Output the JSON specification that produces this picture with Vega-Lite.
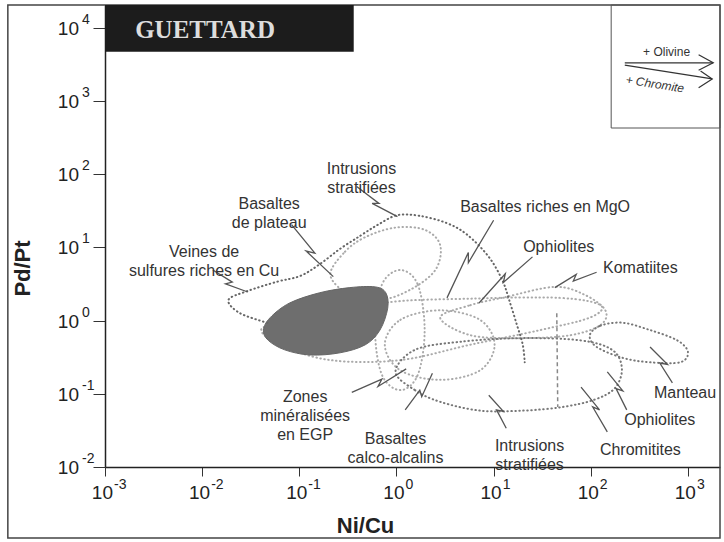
{
"$schema":"https://vega.github.io/schema/vega-lite/v6.json",
"width":615,"height":462,
"autosize":{"type":"none"},
"padding":{"left":105,"top":5,"right":4,"bottom":75},
"background":"white",
"config":{"view":{"stroke":null},"font":"Liberation Sans"},
"datasets":{
"frame":[{"x":-4,"x2":3.33,"y":-2.97,"y2":4.31}],
"legendbox":[{"x":2.21,"x2":3.33,"y":2.63,"y2":4.31}],
"titlebox":[{"x":-3,"x2":-0.44,"y":3.67,"y2":4.31}],
"blob":[
{"g":"b","o":1,"x":-1.37,"y":-0.13},{"g":"b","o":2,"x":-1.30,"y":0.04},{"g":"b","o":3,"x":-1.10,"y":0.24},{"g":"b","o":4,"x":-0.79,"y":0.38},{"g":"b","o":5,"x":-0.48,"y":0.45},{"g":"b","o":6,"x":-0.22,"y":0.46},{"g":"b","o":7,"x":-0.11,"y":0.38},{"g":"b","o":8,"x":-0.09,"y":0.17},{"g":"b","o":9,"x":-0.17,"y":-0.13},{"g":"b","o":10,"x":-0.32,"y":-0.33},{"g":"b","o":11,"x":-0.58,"y":-0.44},{"g":"b","o":12,"x":-0.89,"y":-0.47},{"g":"b","o":13,"x":-1.15,"y":-0.40},{"g":"b","o":14,"x":-1.32,"y":-0.27}],
"openfield":[
{"g":"f1","o":1,"x":-1.33,"y":-0.03},{"g":"f1","o":2,"x":-1.61,"y":0.10},{"g":"f1","o":3,"x":-1.73,"y":0.28},{"g":"f1","o":4,"x":-1.54,"y":0.40},{"g":"f1","o":5,"x":-1.23,"y":0.53},{"g":"f1","o":6,"x":-0.99,"y":0.61},{"g":"f1","o":7,"x":-0.79,"y":0.77},{"g":"f1","o":8,"x":-0.58,"y":0.98},{"g":"f1","o":9,"x":-0.37,"y":1.16},{"g":"f1","o":10,"x":-0.19,"y":1.31},{"g":"f1","o":11,"x":0.01,"y":1.44},{"g":"f1","o":12,"x":0.24,"y":1.43},{"g":"f1","o":13,"x":0.52,"y":1.33},{"g":"f1","o":14,"x":0.73,"y":1.17},{"g":"f1","o":15,"x":0.95,"y":0.87},{"g":"f1","o":16,"x":1.09,"y":0.55},{"g":"f1","o":17,"x":1.16,"y":0.28},{"g":"f1","o":18,"x":1.24,"y":-0.06},{"g":"f1","o":19,"x":1.30,"y":-0.33},{"g":"f1","o":20,"x":1.32,"y":-0.57}],
"darkfields":[
{"g":"f2","o":1,"x":-0.01,"y":-0.70},{"g":"f2","o":2,"x":0.19,"y":-0.95},{"g":"f2","o":3,"x":0.45,"y":-1.11},{"g":"f2","o":4,"x":0.86,"y":-1.23},{"g":"f2","o":5,"x":1.30,"y":-1.23},{"g":"f2","o":6,"x":1.71,"y":-1.18},{"g":"f2","o":7,"x":2.04,"y":-1.08},{"g":"f2","o":8,"x":2.25,"y":-0.92},{"g":"f2","o":9,"x":2.32,"y":-0.65},{"g":"f2","o":10,"x":2.22,"y":-0.40},{"g":"f2","o":11,"x":1.89,"y":-0.27},{"g":"f2","o":12,"x":1.27,"y":-0.24},{"g":"f2","o":13,"x":0.65,"y":-0.29},{"g":"f2","o":14,"x":0.19,"y":-0.40},
{"g":"f3","o":1,"x":1.99,"y":-0.20},{"g":"f3","o":2,"x":2.10,"y":-0.07},{"g":"f3","o":3,"x":2.33,"y":-0.03},{"g":"f3","o":4,"x":2.61,"y":-0.13},{"g":"f3","o":5,"x":2.89,"y":-0.27},{"g":"f3","o":6,"x":3.00,"y":-0.43},{"g":"f3","o":7,"x":2.92,"y":-0.57},{"g":"f3","o":8,"x":2.61,"y":-0.57},{"g":"f3","o":9,"x":2.33,"y":-0.51},{"g":"f3","o":10,"x":2.06,"y":-0.36}],
"lightfields":[
{"g":"f4","o":1,"x":0.45,"y":0.04},{"g":"f4","o":2,"x":0.76,"y":0.21},{"g":"f4","o":3,"x":1.12,"y":0.32},{"g":"f4","o":4,"x":1.63,"y":0.46},{"g":"f4","o":5,"x":1.94,"y":0.35},{"g":"f4","o":6,"x":2.15,"y":0.14},{"g":"f4","o":7,"x":2.10,"y":-0.06},{"g":"f4","o":8,"x":1.79,"y":-0.20},{"g":"f4","o":9,"x":1.27,"y":-0.24},{"g":"f4","o":10,"x":0.76,"y":-0.20},
{"g":"f5","o":1,"x":-1.38,"y":-0.10},{"g":"f5","o":2,"x":-0.89,"y":-0.02},{"g":"f5","o":3,"x":-0.14,"y":0.24},{"g":"f5","o":4,"x":0.78,"y":0.30},{"g":"f5","o":5,"x":1.68,"y":0.31},{"g":"f5","o":6,"x":2.10,"y":0.21},{"g":"f5","o":7,"x":1.99,"y":0.04},{"g":"f5","o":8,"x":1.48,"y":-0.13},{"g":"f5","o":9,"x":0.76,"y":-0.33},{"g":"f5","o":10,"x":0.04,"y":-0.54},{"g":"f5","o":11,"x":-0.68,"y":-0.54},{"g":"f5","o":12,"x":-1.20,"y":-0.33},
{"g":"f6","o":1,"x":-0.68,"y":0.62},{"g":"f6","o":2,"x":-0.53,"y":0.94},{"g":"f6","o":3,"x":-0.32,"y":1.14},{"g":"f6","o":4,"x":-0.01,"y":1.27},{"g":"f6","o":5,"x":0.29,"y":1.24},{"g":"f6","o":6,"x":0.45,"y":1.03},{"g":"f6","o":7,"x":0.40,"y":0.69},{"g":"f6","o":8,"x":0.14,"y":0.42},{"g":"f6","o":9,"x":-0.17,"y":0.28},{"g":"f6","o":10,"x":-0.48,"y":0.35},
{"g":"f7","o":1,"x":0.04,"y":0.69},{"g":"f7","o":2,"x":0.22,"y":0.49},{"g":"f7","o":3,"x":0.29,"y":-0.13},{"g":"f7","o":4,"x":0.22,"y":-0.74},{"g":"f7","o":5,"x":0.04,"y":-0.95},{"g":"f7","o":6,"x":-0.15,"y":-0.74},{"g":"f7","o":7,"x":-0.22,"y":-0.13},{"g":"f7","o":8,"x":-0.15,"y":0.49},
{"g":"f8","o":1,"x":-0.12,"y":-0.33},{"g":"f8","o":2,"x":0.04,"y":0.01},{"g":"f8","o":3,"x":0.45,"y":0.14},{"g":"f8","o":4,"x":0.86,"y":0.01},{"g":"f8","o":5,"x":1.01,"y":-0.33},{"g":"f8","o":6,"x":0.86,"y":-0.68},{"g":"f8","o":7,"x":0.45,"y":-0.81},{"g":"f8","o":8,"x":0.04,"y":-0.68}],
"dashed":[{"g":"c","o":1,"x":1.65,"y":0.10},{"g":"c","o":2,"x":1.66,"y":-1.18}],
"leaders":[
{"g":"l1","o":1,"x":-1.89,"y":0.69},{"g":"l1","o":2,"x":-1.69,"y":0.525},{"g":"l1","o":3,"x":-1.76,"y":0.50},{"g":"l1","o":4,"x":-1.53,"y":0.39},
{"g":"l2","o":1,"x":-1.08,"y":1.31},{"g":"l2","o":2,"x":-0.84,"y":0.92},{"g":"l2","o":3,"x":-0.93,"y":0.95},{"g":"l2","o":4,"x":-0.65,"y":0.60},
{"g":"l3","o":1,"x":-0.41,"y":1.83},{"g":"l3","o":2,"x":-0.18,"y":1.60},{"g":"l3","o":3,"x":-0.25,"y":1.60},{"g":"l3","o":4,"x":0.01,"y":1.42},
{"g":"l4","o":1,"x":1.00,"y":1.37},{"g":"l4","o":2,"x":0.74,"y":0.79},{"g":"l4","o":3,"x":0.74,"y":0.93},{"g":"l4","o":4,"x":0.52,"y":0.31},
{"g":"l5","o":1,"x":1.40,"y":0.87},{"g":"l5","o":2,"x":1.10,"y":0.52},{"g":"l5","o":3,"x":1.12,"y":0.64},{"g":"l5","o":4,"x":0.85,"y":0.24},
{"g":"l6","o":1,"x":2.06,"y":0.66},{"g":"l6","o":2,"x":1.82,"y":0.54},{"g":"l6","o":3,"x":1.85,"y":0.63},{"g":"l6","o":4,"x":1.63,"y":0.45},
{"g":"l7","o":1,"x":-0.46,"y":-0.98},{"g":"l7","o":2,"x":-0.15,"y":-0.80},{"g":"l7","o":3,"x":-0.19,"y":-0.90},{"g":"l7","o":4,"x":0.10,"y":-0.66},
{"g":"l8","o":1,"x":0.09,"y":-1.22},{"g":"l8","o":2,"x":0.24,"y":-0.95},{"g":"l8","o":3,"x":0.26,"y":-1.04},{"g":"l8","o":4,"x":0.37,"y":-0.72},
{"g":"l9","o":1,"x":1.13,"y":-1.47},{"g":"l9","o":2,"x":1.03,"y":-1.22},{"g":"l9","o":3,"x":1.10,"y":-1.24},{"g":"l9","o":4,"x":0.95,"y":-1.02},
{"g":"l10","o":1,"x":2.17,"y":-1.52},{"g":"l10","o":2,"x":2.02,"y":-1.18},{"g":"l10","o":3,"x":2.09,"y":-1.22},{"g":"l10","o":4,"x":1.90,"y":-0.91},
{"g":"l11","o":1,"x":2.37,"y":-1.22},{"g":"l11","o":2,"x":2.26,"y":-0.93},{"g":"l11","o":3,"x":2.33,"y":-0.96},{"g":"l11","o":4,"x":2.17,"y":-0.70},
{"g":"l12","o":1,"x":2.84,"y":-0.85},{"g":"l12","o":2,"x":2.71,"y":-0.58},{"g":"l12","o":3,"x":2.79,"y":-0.60},{"g":"l12","o":4,"x":2.61,"y":-0.36}],
"arrows":[
{"g":"a1","o":1,"x":2.35,"y":3.52},{"g":"a1","o":2,"x":3.26,"y":3.52},
{"g":"a2","o":1,"x":3.11,"y":3.63},{"g":"a2","o":2,"x":3.26,"y":3.52},{"g":"a2","o":3,"x":3.11,"y":3.42},
{"g":"a3","o":1,"x":2.35,"y":3.49},{"g":"a3","o":2,"x":3.25,"y":3.30},
{"g":"a4","o":1,"x":3.13,"y":3.41},{"g":"a4","o":2,"x":3.25,"y":3.30},{"g":"a4","o":3,"x":3.11,"y":3.18}],
"labels":[
{"x":-1.98,"y":0.94,"t":"Veines de\nsulfures riches en Cu"},
{"x":-1.31,"y":1.59,"t":"Basaltes\nde plateau"},
{"x":-0.36,"y":2.07,"t":"Intrusions\nstratifiées"},
{"x":1.53,"y":1.55,"t":"Basaltes riches en MgO"},
{"x":1.67,"y":1.01,"t":"Ophiolites"},
{"x":2.51,"y":0.72,"t":"Komatiites"},
{"x":-0.94,"y":-1.04,"t":"Zones\nminéralisées\nen EGP"},
{"x":-0.01,"y":-1.62,"t":"Basaltes\ncalco-alcalins"},
{"x":1.37,"y":-1.72,"t":"Intrusions\nstratifiées"},
{"x":2.51,"y":-1.77,"t":"Chromitites"},
{"x":2.71,"y":-1.36,"t":"Ophiolites"},
{"x":2.97,"y":-0.99,"t":"Manteau"}],
"xticks":[{"x":-3,"y":-2,"e":"-3"},{"x":-2,"y":-2,"e":"-2"},{"x":-1,"y":-2,"e":"-1"},{"x":0,"y":-2,"e":"0"},{"x":1,"y":-2,"e":"1"},{"x":2,"y":-2,"e":"2"},{"x":3,"y":-2,"e":"3"}],
"yticks":[{"x":-3,"y":-2,"e":"-2"},{"x":-3,"y":-1,"e":"-1"},{"x":-3,"y":0,"e":"0"},{"x":-3,"y":1,"e":"1"},{"x":-3,"y":2,"e":"2"},{"x":-3,"y":3,"e":"3"},{"x":-3,"y":4,"e":"4"}]
},
"encoding":{
"x":{"field":"x","type":"quantitative","scale":{"domain":[-3,3.33],"nice":false,"zero":false},
 "axis":{"values":[-3,-2,-1,0,1,2,3],"labels":false,"grid":false,"tickSize":9,"tickColor":"#333","domainColor":"#222","domainWidth":1.5,"tickWidth":1,
 "title":"Ni/Cu","titleFont":"Liberation Sans","titleFontSize":22,"titleFontWeight":"bold","titleColor":"#222","titleX":260,"titleY":58,"titleBaseline":"middle","titleAlign":"center"}},
"y":{"field":"y","type":"quantitative","scale":{"domain":[-2,4.31],"nice":false,"zero":false},
 "axis":{"values":[-2,-1,0,1,2,3,4],"labels":false,"grid":false,"tickSize":12,"tickColor":"#333","domainColor":"#222","domainWidth":1.5,"tickWidth":1,
 "title":"Pd/Pt","titleFont":"Liberation Sans","titleFontSize":22,"titleFontWeight":"bold","titleColor":"#222","titleX":-83,"titleY":263,"titleBaseline":"middle","titleAlign":"center","titleAngle":-90}}
},
"layer":[
{"data":{"name":"frame"},"mark":{"type":"rect","fill":null,"stroke":"#444","strokeWidth":1.5},"encoding":{"x2":{"field":"x2"},"y2":{"field":"y2"}}},
{"data":{"name":"legendbox"},"mark":{"type":"rect","fill":null,"stroke":"#555","strokeWidth":1},"encoding":{"x2":{"field":"x2"},"y2":{"field":"y2"}}},
{"data":{"name":"titlebox"},"mark":{"type":"rect","fill":"#1c1c1c"},"encoding":{"x2":{"field":"x2"},"y2":{"field":"y2"}}},
{"data":{"name":"lightfields"},"mark":{"type":"line","interpolate":"cardinal-closed","stroke":"#aaaaaa","strokeWidth":2,"strokeDash":[0.5,3.5],"strokeCap":"round"},"encoding":{"detail":{"field":"g"},"order":{"field":"o"}}},
{"data":{"name":"blob"},"mark":{"type":"line","interpolate":"cardinal-closed","fill":"#6e6e6e","stroke":"#666","strokeWidth":1},"encoding":{"detail":{"field":"g"},"order":{"field":"o"}}},
{"data":{"name":"darkfields"},"mark":{"type":"line","interpolate":"cardinal-closed","stroke":"#777","strokeWidth":2,"strokeDash":[0.5,3.5],"strokeCap":"round"},"encoding":{"detail":{"field":"g"},"order":{"field":"o"}}},
{"data":{"name":"openfield"},"mark":{"type":"line","interpolate":"cardinal","stroke":"#666","strokeWidth":2,"strokeDash":[0.5,3.5],"strokeCap":"round"},"encoding":{"detail":{"field":"g"},"order":{"field":"o"}}},
{"data":{"name":"dashed"},"mark":{"type":"line","stroke":"#888","strokeWidth":1.5,"strokeDash":[4,3]},"encoding":{"detail":{"field":"g"},"order":{"field":"o"}}},
{"data":{"name":"leaders"},"mark":{"type":"line","stroke":"#555","strokeWidth":1.3},"encoding":{"detail":{"field":"g"},"order":{"field":"o"}}},
{"data":{"name":"arrows"},"mark":{"type":"line","stroke":"#333","strokeWidth":1.2},"encoding":{"detail":{"field":"g"},"order":{"field":"o"}}},
{"data":{"name":"labels"},"mark":{"type":"text","fontSize":16,"fill":"#333","align":"center","baseline":"middle","lineHeight":19,"lineBreak":"\n"},"encoding":{"text":{"field":"t"}}},
{"data":{"values":[{"x":2.78,"y":3.67,"t":"+ Olivine"}]},"mark":{"type":"text","fontSize":12,"fill":"#333","align":"center","baseline":"middle"},"encoding":{"text":{"field":"t"}}},
{"data":{"values":[{"x":2.66,"y":3.23,"t":"+ Chromite"}]},"mark":{"type":"text","fontSize":12,"fontStyle":"italic","fill":"#333","align":"center","baseline":"middle","angle":9},"encoding":{"text":{"field":"t"}}},
{"data":{"values":[{"x":-1.97,"y":3.97,"t":"GUETTARD"}]},"mark":{"type":"text","font":"Liberation Serif","fontSize":25,"fontWeight":"bold","fill":"#dddddd","align":"center","baseline":"middle"},"encoding":{"text":{"field":"t"}}},
{"data":{"name":"xticks"},"mark":{"type":"text","fontSize":19,"fill":"#222","align":"right","baseline":"alphabetic","dx":8,"dy":32,"text":"10"},"encoding":{}},
{"data":{"name":"xticks"},"mark":{"type":"text","fontSize":14,"fill":"#222","align":"left","baseline":"alphabetic","dx":9,"dy":22},"encoding":{"text":{"field":"e"}}},
{"data":{"name":"yticks"},"mark":{"type":"text","fontSize":19,"fill":"#222","align":"right","baseline":"alphabetic","dx":-26,"dy":7,"text":"10"},"encoding":{}},
{"data":{"name":"yticks"},"mark":{"type":"text","fontSize":14,"fill":"#222","align":"left","baseline":"alphabetic","dx":-23,"dy":-4},"encoding":{"text":{"field":"e"}}}
]
}
